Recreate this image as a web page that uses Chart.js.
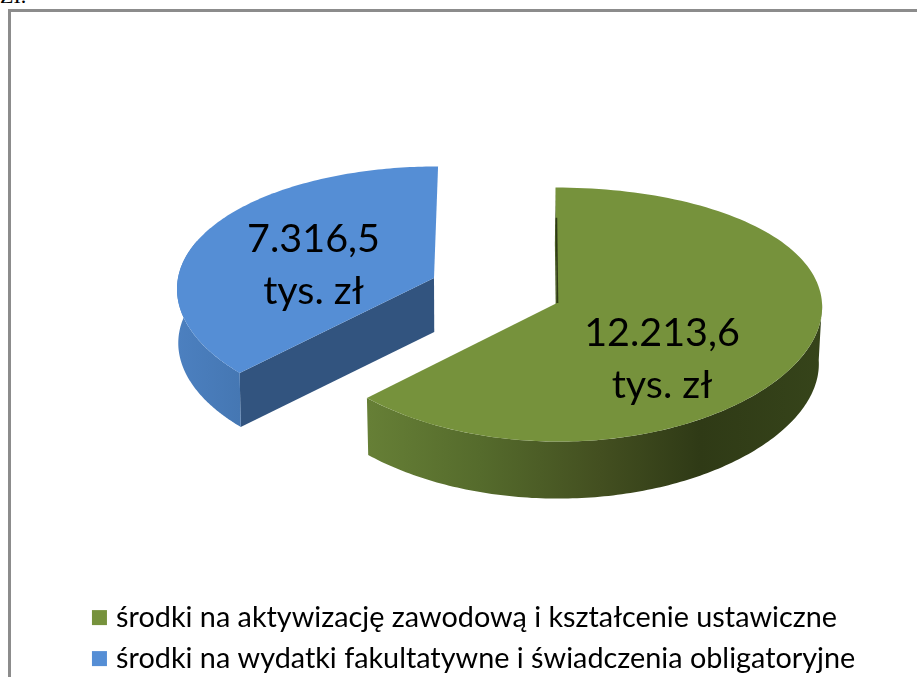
<!DOCTYPE html>
<html lang="pl">
<head>
<meta charset="utf-8">
<script src="https://cdn.jsdelivr.net/npm/chart.js@4"></script>
<style>
html,body{margin:0;padding:0;background:#fff;width:917px;height:677px;overflow:hidden}
#frame{position:absolute;left:8px;top:9px;width:909px;height:668px;border-left:3px solid #8c8c8c;border-top:3px solid #8c8c8c;box-sizing:border-box}
#note{position:absolute;left:0;top:-17px;font:22px "Liberation Serif",serif;color:#000}
canvas{position:absolute;left:0;top:0}
</style>
</head>
<body>
<div id="note">ZI.</div>
<div id="frame"></div>
<canvas id="c" width="917" height="683"></canvas>
<script>
const categories = ['środki na aktywizację zawodową i kształcenie ustawiczne', 'środki na wydatki fakultatywne i świadczenia obligatoryjne'];
const values = [12213.6, 7316.5];
const valueLabels = [['12.213,6', 'tys. zł'], ['7.316,5', 'tys. zł']];
const colors = ['#76923c', '#558ed5'];
const FONT = 'Lato, "Open Sans", sans-serif';

// Perspective look of each exploded slice (style only, not data)
const VANISH_X = 495;
const looks = [
  {cx: 557, cy: 303, rx: 265, ry: 126, depth: 57, dx: 40, dy: 11, taper: 0.99, edge: '#2f3a16',
   wall: [[369,'#667f36'],[480,'#556b2c'],[600,'#434f20'],[700,'#2f3a16'],[822,'#36441a']], cut: '#4c5f27', label: [662, 333, 385]},
  {cx: 434, cy: 278, rx: 256, ry: 124, depth: 54, dx: 14, dy: 9, taper: 0.996,
   wall: [[176,'#4c80c0'],[240,'#4577b3']], cut: '#32547f', label: [313.5, 239, 291]}
];
function project(look, theta, frac, down) {
  const z = frac * Math.cos(theta);
  const sx = look.dx / (look.dx + z), sy = look.dy / (look.dy + z);
  let x = VANISH_X + (look.cx - VANISH_X + frac * look.rx * Math.sin(theta)) * sx;
  const y = look.cy - frac * look.ry * Math.cos(theta) * sy + down;
  if (down) x = VANISH_X + (x - VANISH_X) * look.taper;
  return [x, y];
}
function arcPts(look, a, b, down) {
  const pts = [], n = 140;
  for (let i = 0; i <= n; i++) pts.push(project(look, a + (b - a) * i / n, 1, down));
  return pts;
}
function fillPoly(ctx, pts, fill) {
  ctx.beginPath();
  pts.forEach((p, i) => i ? ctx.lineTo(p[0], p[1]) : ctx.moveTo(p[0], p[1]));
  ctx.closePath();
  ctx.fillStyle = fill;
  ctx.fill();
}
const pie3d = {
  id: 'pie3d',
  beforeDatasetsDraw(chart) {
    const ctx = chart.ctx;
    const arcs = chart.getDatasetMeta(0).data;
    ctx.save();
    [1, 0].forEach(i => {
      const arc = arcs[i], look = looks[i];
      const a = arc.startAngle + Math.PI / 2, b = arc.endAngle + Math.PI / 2;
      const d = look.depth;
      // radial cut wall facing the viewer (the other one is hidden behind the top face)
      fillPoly(ctx, [project(look, a, 0, 0), project(look, a, 1, 0), project(look, a, 1, d), project(look, a, 0, d)], look.cut);
      // outer wall
      const w0 = Math.max(a, Math.PI / 2), w1 = Math.min(b, Math.PI * 1.6);
      const g = ctx.createLinearGradient(look.wall[0][0], 0, look.wall[look.wall.length - 1][0], 0);
      const span = look.wall[look.wall.length - 1][0] - look.wall[0][0];
      look.wall.forEach(s => g.addColorStop((s[0] - look.wall[0][0]) / span, s[1]));
      fillPoly(ctx, arcPts(look, w0, w1, 0).concat(arcPts(look, w0, w1, d).reverse()), g);
      // top face
      fillPoly(ctx, [project(look, 0, 0, 0)].concat(arcPts(look, a, b, 0)), arc.options.backgroundColor);
      // thin dark sliver of the far cut wall
      if (look.edge) {
        const p0 = project(look, a, 0, 0), p1 = project(look, a, 0.72, 0);
        ctx.beginPath();
        ctx.moveTo(p0[0] + 0.5, p0[1]);
        ctx.lineTo(p1[0] + 0.5, p1[1]);
        ctx.strokeStyle = look.edge;
        ctx.lineWidth = 1.6;
        ctx.stroke();
      }
    });
    ctx.fillStyle = '#000';
    ctx.font = '39.5px ' + FONT;
    ctx.textAlign = 'center';
    ctx.textBaseline = 'middle';
    valueLabels.forEach((lines, i) => {
      const l = looks[i].label;
      lines.forEach((t, k) => ctx.fillText(t, l[0], l[k + 1]));
    });
    ctx.restore();
    return false;
  }
};
new Chart(document.getElementById('c'), {
  type: 'pie',
  data: {labels: categories, datasets: [{data: values, backgroundColor: colors, borderWidth: 0}]},
  options: {
    responsive: false,
    animation: false,
    layout: {padding: {left: 85}},
    plugins: {
      tooltip: {enabled: false},
      legend: {
        position: 'bottom',
        align: 'start',
        labels: {
          boxWidth: 4.5, boxHeight: 4.5, padding: 12.2, color: '#222',
          font: {family: FONT, size: 28.8},
          generateLabels: () => categories.map((text, i) => ({
            text, fillStyle: colors[i], strokeStyle: colors[i], lineWidth: 10.5, index: i, hidden: false
          }))
        }
      }
    }
  },
  plugins: [pie3d]
});
</script>
</body>
</html>
